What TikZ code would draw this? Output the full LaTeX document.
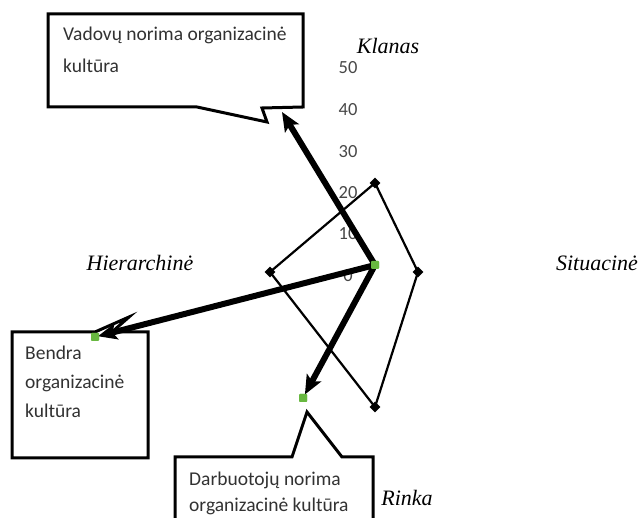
\documentclass[tikz,border=0pt]{standalone}
\usepackage{fontspec}
\setmainfont{Carlito}
\newfontfamily\axisfont{Liberation Serif}
\usetikzlibrary{arrows.meta,shapes.geometric}
\definecolor{dotgreen}{RGB}{104,184,64}
\definecolor{txtgray}{RGB}{50,50,50}
\tikzset{
  calloutbox/.style={draw=black, line width=3pt, fill=white, line join=miter},
  boxtext/.style={anchor=north west, inner sep=0pt, align=left, text=txtgray,
    font=\fontsize{19.5}{29}\selectfont},
  axislabel/.style={inner sep=0pt, font=\axisfont\itshape\fontsize{22}{24}\selectfont},
  ticklabel/.style={inner sep=0pt, text=black!72, font=\fontsize{18.5}{20}\selectfont},
  seriesline/.style={draw=black, line width=2.2pt, line join=miter},
  vertexmark/.style={diamond, fill=black, inner sep=0pt, minimum size=11pt},
  greendot/.style={rectangle, rounded corners=1pt, fill=dotgreen, inner sep=0pt, minimum size=8pt},
  bigarrow/.style={draw=black, line width=6pt, -{Stealth[length=19pt,width=16pt,inset=4pt]}}
}
\begin{document}
\begin{tikzpicture}[x=1pt,y=-1pt]
\clip (0,0) rectangle (638,518);
\fill[white] (0,0) rectangle (638,518);

% value axis labels
\foreach \v/\yy in {50/68,40/110,30/152,20/193,10/234,0/276}
  \node[ticklabel] (tick\v) at (348,\yy) {\v};

% category labels
\node[axislabel] (klanas) at (388,46) {Klanas};
\node[axislabel] (hier) at (140,263) {Hierarchinė};
\node[axislabel] (situ) at (597,263) {Situacinė};
\node[axislabel] (rinka) at (407,498) {Rinka};

% data series
\node[vertexmark] (pk) at (375,183) {};
\node[vertexmark] (ps) at (418,272) {};
\node[vertexmark] (pr) at (375,407) {};
\node[vertexmark] (ph) at (270,272) {};
\draw[seriesline] (pk.center) -- (ps.center) -- (pr.center) -- (ph.center) -- cycle;

% callout boxes
\draw[calloutbox] (48,14) -- (303,14) -- (303,107) -- (262,108) -- (267,122)
  -- (197,107) -- (48,107) -- cycle;
\node[boxtext, font=\fontsize{19.5}{32}\selectfont] (vadovu) at (63,27)
  {Vadovų norima organizacinė\\kultūra};

\draw[calloutbox] (12,332) -- (95,332) -- (129,317) -- (112,332) -- (148,332)
  -- (148,458) -- (12,458) -- cycle;
\node[boxtext] (bendra) at (25,346) {Bendra\\organizacinė\\kultūra};

\draw[calloutbox] (175,457) -- (292,457) -- (307,412) -- (342,457) -- (373,457)
  -- (373,540) -- (175,540) -- cycle;
\node[boxtext, font=\fontsize{19.5}{26}\selectfont] (darb) at (189,472)
  {Darbuotojų norima\\organizacinė kultūra};

% arrows from the centre point
\node[greendot] (g0) at (375,265) {};
\node[greendot] (gb) at (95,337) {};
\node[greendot] (gd) at (303,398) {};
\coordinate (vtip) at (282,112);
\draw[bigarrow] (g0.center) -- (vtip);
\draw[bigarrow, shorten >=3pt] (g0.center) -- (gb.center);
\draw[bigarrow, shorten >=4pt] (g0.center) -- (gd.center);
\node[greendot] at (g0) {};
\node[greendot] at (gb) {};
\node[greendot] at (gd) {};
\end{tikzpicture}
\end{document}
